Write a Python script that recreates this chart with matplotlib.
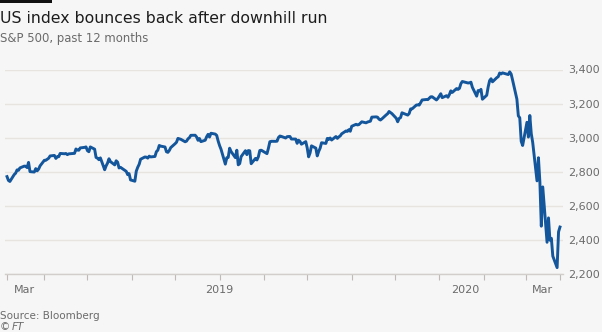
import matplotlib
matplotlib.use('Agg')
import matplotlib.pyplot as plt
from matplotlib.patches import Rectangle
from matplotlib.ticker import FuncFormatter
import numpy as np
import pandas as pd

# S&P 500 daily closes, one list per month
mar19 = [2771.45, 2748.93, 2743.07, 2783.30, 2791.52, 2810.92, 2808.48, 2822.48,
         2832.94, 2832.57, 2824.23, 2854.88, 2800.71, 2798.36, 2818.46, 2805.37,
         2815.44, 2834.40]
apr19 = [2867.19, 2867.24, 2873.40, 2879.39, 2892.74, 2895.77, 2878.20, 2888.21,
         2888.32, 2907.41, 2905.58, 2907.06, 2900.45, 2905.03, 2907.97, 2933.68,
         2927.25, 2926.17, 2939.88, 2943.03, 2945.83]
may19 = [2923.73, 2917.52, 2945.64, 2932.47, 2884.05, 2879.42, 2870.72, 2881.40,
         2811.87, 2834.41, 2850.96, 2876.32, 2859.53, 2840.23, 2864.36, 2856.27,
         2822.24, 2826.06, 2802.39, 2783.02, 2788.86, 2752.06]
jun19 = [2744.45, 2803.27, 2826.15, 2843.49, 2873.34, 2886.73, 2885.72, 2879.84,
         2891.64, 2886.98, 2889.67, 2917.75, 2926.46, 2954.18, 2950.46, 2945.35,
         2917.38, 2913.78, 2924.92, 2941.76]
jul19 = [2964.33, 2973.01, 2995.82, 2990.41, 2975.95, 2979.63, 2993.07, 2999.91,
         3013.77, 3014.30, 3004.04, 2984.42, 2995.11, 2976.61, 2985.03, 3005.47,
         3019.56, 3003.67, 3025.86, 3020.97, 3013.18, 2980.38]
aug19 = [2953.56, 2932.05, 2844.74, 2881.77, 2883.98, 2938.09, 2918.65, 2882.70,
         2926.32, 2840.60, 2847.60, 2888.68, 2923.65, 2900.51, 2924.43, 2922.95,
         2847.11, 2878.38, 2869.16, 2887.94, 2924.58, 2926.46]
sep19 = [2906.27, 2937.78, 2976.00, 2978.71, 2978.43, 2979.39, 3000.93, 3009.57,
         3007.39, 2997.96, 3005.70, 3006.73, 3006.79, 2992.07, 2991.78, 2966.60,
         2984.87, 2977.62, 2961.79, 2976.74]
oct19 = [2940.25, 2887.61, 2910.63, 2952.01, 2938.79, 2893.06, 2919.40, 2938.13,
         2970.27, 2966.15, 2995.68, 2989.69, 2997.95, 2986.20, 3006.72, 2995.99,
         3004.52, 3010.29, 3022.55, 3039.42, 3036.89, 3046.77, 3037.56]
nov19 = [3066.91, 3078.27, 3074.62, 3076.78, 3085.18, 3093.08, 3087.01, 3091.84,
         3094.04, 3096.63, 3120.46, 3122.03, 3120.18, 3108.46, 3103.54, 3110.29,
         3133.64, 3140.52, 3153.63, 3140.98]
dec19 = [3113.87, 3093.20, 3112.76, 3117.43, 3145.91, 3135.96, 3132.52, 3141.63,
         3168.57, 3168.80, 3191.45, 3192.52, 3191.14, 3205.37, 3221.22, 3224.01,
         3223.38, 3239.91, 3240.02, 3221.29, 3230.78]
jan20 = [3257.85, 3234.85, 3246.28, 3237.18, 3253.05, 3274.70, 3265.35, 3288.13,
         3283.15, 3289.29, 3316.81, 3329.62, 3320.79, 3321.75, 3325.54, 3295.47,
         3243.63, 3276.24, 3273.40, 3283.66, 3225.52]
feb20 = [3248.92, 3297.59, 3334.69, 3345.78, 3327.71, 3352.09, 3357.75, 3379.45,
         3373.94, 3380.16, 3370.29, 3386.15, 3373.23, 3337.75, 3225.89, 3128.21,
         3116.39, 2978.76, 2954.22]
mar20 = [3090.23, 3003.37, 3130.12, 3023.94, 2972.37, 2746.56, 2882.23, 2741.38,
         2480.64, 2711.02, 2386.13, 2529.19, 2398.10, 2409.39, 2304.92, 2237.40,
         2447.33, 2475.56]

holidays = ['2019-04-19', '2019-05-27', '2019-07-04', '2019-09-02', '2019-11-28',
            '2019-12-25', '2020-01-01', '2020-01-20', '2020-02-17']
first_day = '2019-03-06'
last_day = '2020-03-25'

y_ticks = [2200, 2400, 2600, 2800, 3000, 3200, 3400]
x_labels = ['Mar', '2019', '2020', 'Mar']
x_label_dates = ['2019-03-18', '2019-08-01', '2020-01-19', '2020-03-13']

closes = np.array(mar19 + apr19 + may19 + jun19 + jul19 + aug19 + sep19 + oct19
                  + nov19 + dec19 + jan20 + feb20 + mar20)
trading = pd.offsets.CustomBusinessDay(holidays=holidays)
dates = pd.date_range(first_day, last_day, freq=trading)
assert len(dates) == len(closes)

W, H = 602, 332
BG = '#f6f6f6'
LINE = '#14569b'
GREY = '#6b6b6b'

fig = plt.figure(figsize=(W / 100, H / 100), dpi=100, facecolor=BG)

# black rule above the title
fig.patches.append(Rectangle((0, 1 - 3 / H), 52 / W, 3 / H, transform=fig.transFigure,
                             facecolor='#111111', edgecolor='none'))
fig.text(0, 1 - 23 / H, 'US index bounces back after downhill run', fontsize=11.3,
         color='#1d1d1d', ha='left', va='baseline')
fig.text(0, 1 - 42 / H, 'S&P 500, past 12 months', fontsize=8.4, color=GREY,
         ha='left', va='baseline')
fig.text(0, 1 - 319 / H, 'Source: Bloomberg', fontsize=7.5, color=GREY,
         ha='left', va='baseline')
fig.text(0, 1 - 330 / H, '©', fontsize=7.5, color=GREY, ha='left', va='baseline')
fig.text(12 / W, 1 - 330 / H, 'FT', fontsize=7.5, color=GREY, ha='left',
         va='baseline', style='italic')

ax = fig.add_axes([5 / W, (H - 274) / H, 558 / W, 204.5 / H])
ax.set_facecolor(BG)
ax.plot(dates, closes, color=LINE, lw=2.1, solid_joinstyle='round', clip_on=False,
        zorder=3)

ax.set_ylim(2200, 3400)
ax.set_xlim(pd.Timestamp(first_day) - pd.Timedelta(days=1.4),
            pd.Timestamp(last_day) + pd.Timedelta(days=2.1))

for s in ['top', 'left', 'right']:
    ax.spines[s].set_visible(False)
ax.spines['bottom'].set_color('#d2cecb')
ax.spines['bottom'].set_linewidth(1.0)

ax.set_yticks(y_ticks)
ax.yaxis.tick_right()
ax.yaxis.set_major_formatter(FuncFormatter(lambda v, pos: '{:,.0f}'.format(v)))
ax.tick_params(axis='y', length=0, pad=3.6, labelsize=8, labelcolor=GREY)
ax.grid(axis='y', color='#e7e3df', lw=1.0)
ax.set_axisbelow(True)

# month boundaries get tick marks, labels sit between them
edges = [pd.Timestamp(first_day)] + list(pd.date_range('2019-04-01', '2020-03-01', freq='MS')) \
        + [pd.Timestamp(last_day)]
ax.xaxis.remove_overlapping_locs = False
ax.set_xticks(edges)
ax.set_xticklabels([''] * len(edges))
ax.set_xticks(pd.to_datetime(x_label_dates), minor=True)
ax.set_xticklabels(x_labels, minor=True)
ax.tick_params(axis='x', which='major', length=4.5, width=0.8, color='#bfbab6',
               direction='out')
ax.tick_params(axis='x', which='minor', length=0, pad=8, labelsize=8,
               labelcolor=GREY)

plt.savefig('out.png', dpi=100, facecolor=BG)
